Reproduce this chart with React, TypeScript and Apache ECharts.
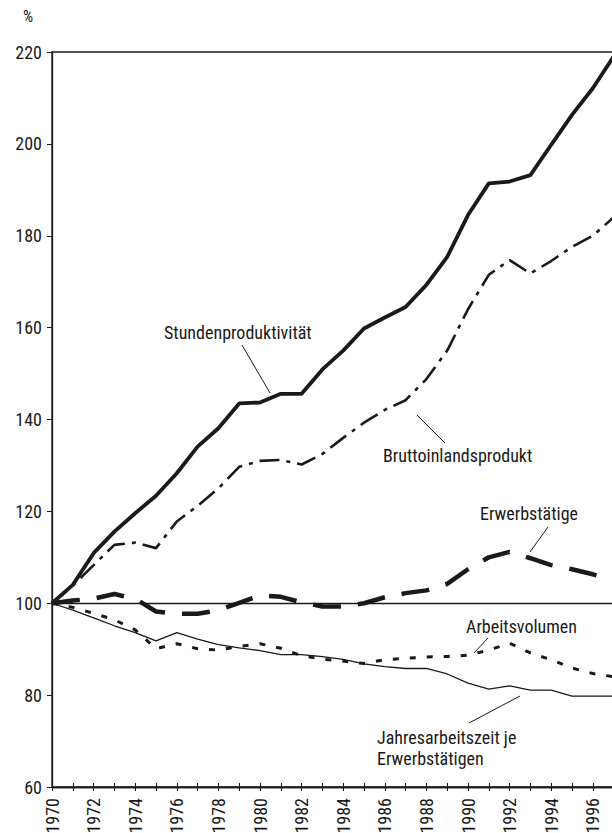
import React, { useEffect, useRef } from "react";
import * as echarts from "echarts";

const years = [
  1970, 1971, 1972, 1973, 1974, 1975, 1976, 1977, 1978, 1979, 1980, 1981, 1982, 1983,
  1984, 1985, 1986, 1987, 1988, 1989, 1990, 1991, 1992, 1993, 1994, 1995, 1996, 1997,
];

const stundenproduktivitaet = [
  100, 104, 110.9, 115.6, 119.6, 123.4, 128.3, 134.1, 138.1, 143.5, 143.7, 145.6, 145.6, 150.9,
  155, 159.8, 162.2, 164.5, 169.3, 175.4, 184.5, 191.4, 191.8, 193.2, 199.8, 206.3, 212.1, 219,
];

const bruttoinlandsprodukt = [
  100, 103.8, 108.3, 112.7, 113.2, 112.0, 117.8, 121.2, 125, 129.7, 131, 131.2, 130.2, 132.5,
  136, 139.3, 142.1, 144.2, 148.8, 155, 164, 171.5, 174.7, 171.8, 174.5, 177.6, 180, 184,
];

const erwerbstaetige = [
  100, 100.6, 101, 102, 101, 98.2, 97.7, 97.7, 98.5, 100.1, 101.7, 101.4, 100.2, 99.3,
  99.3, 100, 101.3, 102.2, 102.8, 104.2, 107.4, 110, 111.2, 109.8, 108.3, 107.4, 106.3, 105,
];

const arbeitsvolumen = [
  100, 99.1, 97.8, 96.4, 94.2, 90.1, 91.2, 90.1, 89.8, 90.6, 91.2, 90.2, 88.6, 87.8,
  87.4, 86.9, 87.7, 88, 88.3, 88.4, 88.7, 89.8, 91.3, 89.2, 87.7, 85.9, 84.7, 84,
];

const jahresarbeitszeit = [
  100, 98.5, 96.8, 95.1, 93.6, 91.8, 93.6, 92.2, 91, 90.3, 89.7, 88.8, 88.8, 88.4,
  87.8, 86.8, 86.2, 85.8, 85.8, 84.6, 82.6, 81.3, 82.0, 81.1, 81.1, 79.8, 79.8, 79.8,
];

const baseIndex = 100;
const yMin = 60;
const yMax = 220;
const yStep = 20;
const unitLabel = "%";

const FONT = '"Liberation Sans Narrow", "Arial Narrow", "Roboto Condensed", "DejaVu Sans Condensed", sans-serif';
const INK = "#1a1a1a";
const FS = 18;

const pairs = (vals: number[]) => years.map((y, i) => [y, vals[i]]);

export default function App() {
  const ref = useRef<HTMLDivElement>(null);
  useEffect(() => {
    document.body.style.margin = "0";
    const chart = echarts.init(ref.current!, null, { renderer: "svg" });
    const textStyle = (t: string, x: number, y: number) => ({
      type: "text",
      x,
      y,
      style: {
        text: t,
        font: `${FS}px ${FONT}`,
        fill: INK,
        verticalAlign: "middle",
        textVerticalAlign: "middle",
      },
    });
    const leader = (x1: number, y1: number, x2: number, y2: number) => ({
      type: "line",
      shape: { x1, y1, x2, y2 },
      style: { stroke: INK, lineWidth: 1 },
    });
    const xBase = {
      type: "value",
      min: years[0],
      max: years[years.length - 1],
      interval: 1,
      position: "bottom",
      splitLine: { show: false },
      axisLine: { show: true, lineStyle: { color: INK, width: 1.3 } },
    };
    chart.setOption({
      animation: false,
      grid: {
        left: 52,
        top: 52,
        right: -1.6,
        bottom: 46,
        containLabel: false,
        outerBoundsMode: "none",
        show: true,
        borderColor: INK,
        borderWidth: 1.3,
        backgroundColor: "transparent",
      },
      xAxis: [
        {
          ...xBase,
          axisTick: { show: true, inside: false, length: 4, lineStyle: { color: INK, width: 1 } },
          axisLabel: {
            show: true,
            rotate: 90,
            margin: 11,
            hideOverlap: false,
            fontFamily: FONT,
            fontSize: FS,
            color: INK,
            formatter: (v: number) => (v % 2 === 0 && v < 1997 ? String(v) : ""),
          },
        },
        {
          ...xBase,
          axisTick: { show: true, inside: true, length: 4, lineStyle: { color: INK, width: 1 } },
          axisLabel: { show: false },
        },
      ],
      yAxis: {
        type: "value",
        min: yMin,
        max: yMax,
        interval: yStep,
        splitLine: { show: false },
        axisLine: { show: true, lineStyle: { color: INK, width: 1.3 } },
        axisTick: { show: true, inside: false, length: 5, lineStyle: { color: INK, width: 1 } },
        axisLabel: { margin: 10, fontFamily: FONT, fontSize: FS, color: INK },
      },
      series: [
        {
          type: "line",
          data: pairs(jahresarbeitszeit),
          symbol: "none",
          lineStyle: { color: INK, width: 1.3, type: "solid" },
          markLine: {
            silent: true,
            symbol: "none",
            label: { show: false },
            lineStyle: { color: INK, width: 1.3, type: "solid" },
            data: [{ yAxis: baseIndex }],
          },
        },
        {
          type: "line",
          data: pairs(arbeitsvolumen),
          symbol: "none",
          lineStyle: { color: INK, width: 3, type: [6, 11], cap: "butt" },
        },
        {
          type: "line",
          data: pairs(erwerbstaetige),
          symbol: "none",
          lineStyle: { color: INK, width: 4.5, type: [28, 17], cap: "butt" },
        },
        {
          type: "line",
          data: pairs(bruttoinlandsprodukt),
          symbol: "none",
          lineStyle: { color: INK, width: 2.6, type: [20, 7, 4, 7], cap: "butt" },
        },
        {
          type: "line",
          data: pairs(stundenproduktivitaet),
          symbol: "none",
          lineStyle: { color: INK, width: 3.8, type: "solid" },
        },
      ],
      graphic: [
        {
          type: "text",
          x: 28,
          y: 16,
          style: {
            text: unitLabel,
            font: `16px ${FONT}`,
            fill: INK,
            align: "center",
            textAlign: "center",
            verticalAlign: "middle",
            textVerticalAlign: "middle",
          },
        },
        textStyle("Stundenproduktivität", 164, 332),
        leader(242, 345, 270, 393),
        textStyle("Bruttoinlandsprodukt", 383, 455),
        leader(417, 415, 445, 443),
        textStyle("Erwerbstätige", 480, 513),
        leader(548, 527, 530, 552),
        textStyle("Arbeitsvolumen", 466, 626),
        leader(488, 638, 474, 653),
        textStyle("Jahresarbeitszeit je", 377, 737),
        textStyle("Erwerbstätigen", 377, 758),
        leader(520, 696, 469, 723),
      ],
    });
    return () => chart.dispose();
  }, []);
  return <div ref={ref} style={{ width: 612, height: 833 }} />;
}
